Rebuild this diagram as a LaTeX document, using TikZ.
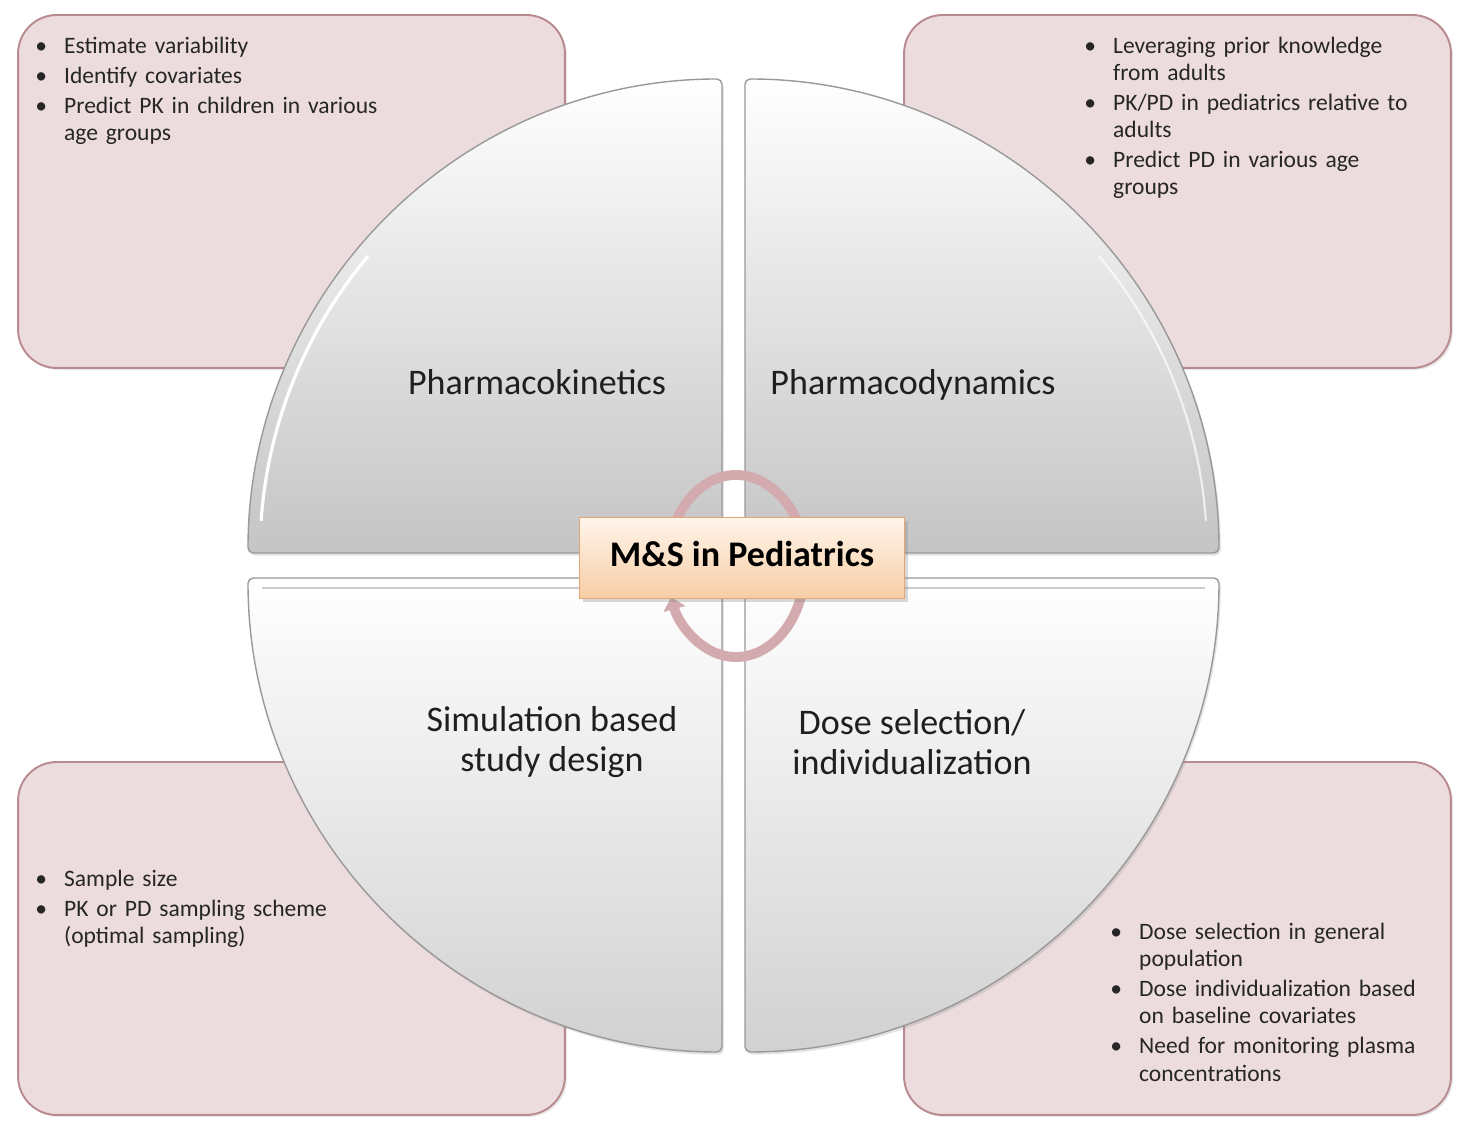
\documentclass[tikz,border=0pt]{standalone}
\usepackage{fontspec}
\setmainfont{Carlito}
\usepackage{tikz}
\usetikzlibrary{arrows.meta,shadows}
\definecolor{msPink}{HTML}{ECDCDD}
\definecolor{msPinkEdge}{HTML}{B98A8E}
\definecolor{msRing}{HTML}{D3ABAF}
\definecolor{msHubTop}{HTML}{FFF5EA}
\definecolor{msHubBot}{HTML}{F7CDA4}
\definecolor{msHubEdge}{HTML}{E0A676}
\definecolor{msText}{HTML}{262626}

% one bullet point with hanging indent
\newcommand{\bpt}[1]{\par\hangindent=16.4pt\hangafter=1\noindent\makebox[16.4pt][l]{\textbullet}#1\par\vspace{1.8pt}}

\tikzset{
    notebox/.style={draw=msPinkEdge,line width=1.1pt,fill=msPink,rounded corners=22pt,minimum width=10.94cm,minimum height=7.06cm,
        drop shadow={opacity=0.18,shadow xshift=1.2pt,shadow yshift=-1.2pt}},
    notes/.style={anchor=north west,inner sep=0pt,text width=8cm,align=left,font=\fontsize{13.4}{15.4}\selectfont,text=msText},
    quadtop/.style={draw=black!40,line width=0.8pt,rounded corners=3pt,top color=white,bottom color=black!23,
        drop shadow={opacity=0.22,shadow xshift=1pt,shadow yshift=-1.5pt}},
    quadbot/.style={draw=black!40,line width=0.8pt,rounded corners=3pt,top color=white,bottom color=black!18,
        drop shadow={opacity=0.22,shadow xshift=1pt,shadow yshift=-1.5pt}},
    quadlabel/.style={font=\fontsize{20.5}{22.7}\selectfont,align=center,text=black!88,inner sep=0pt},
    ringarc/.style={draw=msRing,line width=5.6pt,-{Triangle[width=12.5pt,length=7pt]}},
    hubbox/.style={draw=msHubEdge,line width=1pt,top color=msHubTop,bottom color=msHubBot,minimum width=6.5cm,minimum height=1.62cm,
        text depth=5pt,font=\fontsize{20.5}{22}\selectfont\bfseries,drop shadow={opacity=0.3,shadow xshift=2pt,shadow yshift=-2pt}}
}

\begin{document}
\begin{tikzpicture}[x=0.02cm,y=0.02cm]
\fill[white] (0,0) rectangle (1474,1128);
\useasboundingbox (0,0) rectangle (1474,1128);

% corner boxes
\node[notebox] (pkbox) at (291.5,936.5) {};
\node[notebox] (pdbox) at (1177.5,936.5) {};
\node[notebox] (simbox) at (291.5,189.5) {};
\node[notebox] (dosebox) at (1177.5,189.5) {};

\node[notes] (pknotes) at (35,1102) {\bpt{Estimate variability}\bpt{Identify covariates}\bpt{Predict PK in children in various\newline age groups}};
\node[notes] (pdnotes) at (1084,1102) {\bpt{Leveraging prior knowledge\newline from adults}\bpt{PK/PD in pediatrics relative to\newline adults}\bpt{Predict PD in various age\newline groups}};
\node[notes] (simnotes) at (35,269) {\bpt{Sample size}\bpt{PK or PD sampling scheme\newline (optimal sampling)}};
\node[notes] (dosenotes) at (1110,216) {\bpt{Dose selection in general\newline population}\bpt{Dose individualization based\newline on baseline covariates}\bpt{Need for monitoring plasma\newline concentrations}};

% four quarters of the circle
\path[quadtop] (722,575) -- ++(-474,0) arc[start angle=180,end angle=90,radius=474] -- cycle;
\path[quadtop] (745,575) -- ++(0,474) arc[start angle=90,end angle=0,radius=474] -- cycle;
\path[quadbot] (722,550) -- ++(0,-474) arc[start angle=270,end angle=180,radius=474] -- cycle;
\path[quadbot] (745,550) -- ++(474,0) arc[start angle=0,end angle=-90,radius=474] -- cycle;
% bevel lines
\draw[white,line width=1.8pt] (722,575) ++(176:462) arc[start angle=176,end angle=140,radius=462];
\draw[white,line width=1.2pt,opacity=0.7] (745,575) ++(40:462) arc[start angle=40,end angle=4,radius=462];
\draw[black!20,line width=0.8pt] (262,540) -- (712,540);
\draw[black!20,line width=0.8pt] (755,540) -- (1205,540);

\node[quadlabel,anchor=base] (pk) at (537,733) {Pharmacokinetics};
\node[quadlabel,anchor=base] (pd) at (913,733) {Pharmacodynamics};
\node[quadlabel] (sim) at (552,386) {Simulation based\\study design};
\node[quadlabel] (dose) at (912,386) {Dose selection/\\individualization};

% circular arrows
\draw[ringarc] (736,562) ++(160:69 and 91) arc[start angle=160,end angle=20,x radius=69,y radius=91];
\draw[ringarc] (736,562) ++(-20:69 and 91) arc[start angle=-20,end angle=-160,x radius=69,y radius=91];

\node[hubbox] (hub) at (742,570) {M\&S in Pediatrics};
\end{tikzpicture}
\end{document}
